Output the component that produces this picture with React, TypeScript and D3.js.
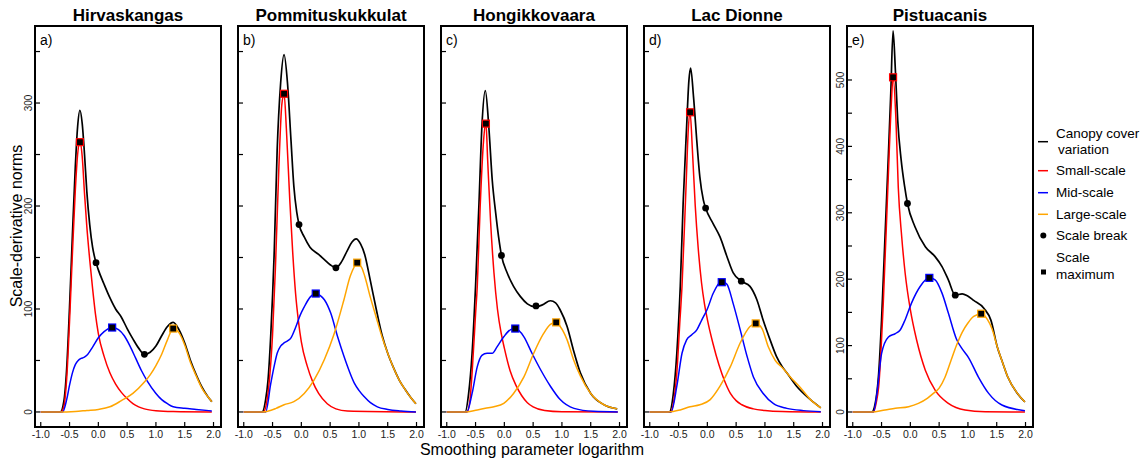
import React from 'react'
import * as d3 from 'd3'

type Pt = [number, number]

const sites = ['Hirvaskangas', 'Pommituskukkulat', 'Hongikkovaara', 'Lac Dionne', 'Pistuacanis']
const panelTags = ['a)', 'b)', 'c)', 'd)', 'e)']
const xTicks = [-1, -0.5, 0, 0.5, 1, 1.5, 2]

// Hirvaskangas
const hirvBlack: Pt[] = [[-1, 0], [-0.66, 0], [-0.6, 10], [-0.55, 42], [-0.5, 102], [-0.45, 172], [-0.4, 238], [-0.36, 277], [-0.32, 293], [-0.28, 280], [-0.24, 250], [-0.2, 214], [-0.15, 182], [-0.1, 160], [-0.04, 145], [0, 138], [0.1, 124], [0.2, 111], [0.3, 100], [0.4, 92], [0.5, 81], [0.6, 71], [0.7, 62], [0.8, 56], [0.9, 58], [1.0, 64], [1.1, 74], [1.2, 83], [1.3, 87], [1.4, 80], [1.5, 67], [1.6, 50], [1.7, 36], [1.8, 24], [1.9, 15], [1.97, 10]]
const hirvRed: Pt[] = [[-1, 0], [-0.65, 0], [-0.6, 5], [-0.55, 32], [-0.5, 88], [-0.45, 154], [-0.4, 215], [-0.36, 250], [-0.32, 263], [-0.28, 248], [-0.24, 212], [-0.2, 180], [-0.15, 148], [-0.1, 120], [-0.05, 95], [0, 76], [0.1, 54], [0.2, 38], [0.3, 27], [0.4, 19], [0.5, 13], [0.6, 8], [0.7, 5], [0.8, 3], [1.0, 1.2], [1.3, 0.4], [1.97, 0]]
const hirvBlue: Pt[] = [[-1, 0], [-0.62, 0], [-0.55, 12], [-0.5, 26], [-0.45, 38], [-0.4, 46], [-0.35, 50], [-0.3, 52], [-0.25, 53], [-0.2, 55], [-0.1, 63], [0, 72], [0.1, 78], [0.24, 82], [0.35, 80], [0.45, 74], [0.55, 64], [0.65, 52], [0.75, 40], [0.85, 30], [1.0, 18], [1.1, 12], [1.2, 8], [1.3, 5], [1.5, 3.5], [1.7, 2.5], [1.97, 1]]
const hirvOrange: Pt[] = [[-1, 0], [-0.7, 0], [-0.4, 0.5], [-0.2, 1.5], [0, 2.5], [0.2, 5], [0.4, 11], [0.6, 18], [0.8, 29], [0.9, 36], [1.0, 45], [1.1, 56], [1.2, 70], [1.3, 81], [1.4, 77], [1.5, 65], [1.6, 48], [1.7, 35], [1.8, 23], [1.9, 15], [1.97, 10]]

// Pommituskukkulat
const pommBlack: Pt[] = [[-1, 0], [-0.68, 0], [-0.62, 12], [-0.58, 30], [-0.53, 76], [-0.47, 157], [-0.42, 254], [-0.36, 319], [-0.3, 347], [-0.24, 319], [-0.18, 264], [-0.13, 219], [-0.08, 194], [-0.04, 182], [0.05, 170], [0.15, 160], [0.3, 153], [0.4, 148], [0.5, 143], [0.6, 140], [0.7, 146], [0.8, 157], [0.88, 165], [0.95, 168], [1.03, 163], [1.1, 153], [1.2, 127], [1.3, 100], [1.4, 75], [1.5, 57], [1.6, 43], [1.7, 31], [1.8, 22], [1.9, 14], [1.99, 8]]
const pommRed: Pt[] = [[-1, 0], [-0.66, 0], [-0.6, 10], [-0.56, 28], [-0.5, 75], [-0.45, 140], [-0.39, 238], [-0.34, 298], [-0.3, 309], [-0.26, 275], [-0.2, 205], [-0.15, 155], [-0.1, 115], [-0.05, 88], [0, 68], [0.1, 45], [0.2, 29], [0.3, 18], [0.45, 8], [0.6, 3], [0.8, 1], [1.99, 0]]
const pommBlue: Pt[] = [[-1, 0], [-0.62, 0], [-0.53, 28], [-0.47, 45], [-0.42, 57], [-0.36, 64], [-0.3, 67], [-0.24, 69], [-0.18, 72], [-0.1, 82], [-0.02, 94], [0.05, 102], [0.16, 112], [0.25, 115], [0.33, 113], [0.4, 109], [0.51, 96], [0.63, 73], [0.74, 54], [0.83, 40], [0.92, 28], [1.0, 21], [1.09, 15], [1.2, 9], [1.32, 5], [1.5, 2.5], [1.73, 1], [1.99, 0]]
const pommOrange: Pt[] = [[-1, 0], [-0.68, 0], [-0.44, 3.5], [-0.3, 7], [-0.13, 10], [0.05, 18], [0.22, 31], [0.4, 51], [0.57, 76], [0.74, 109], [0.85, 132], [0.97, 144], [1.05, 140], [1.1, 132], [1.2, 111], [1.3, 92], [1.4, 73], [1.5, 57], [1.6, 43], [1.7, 31], [1.8, 22], [1.9, 14], [1.99, 8]]

// Hongikkovaara
const hongBlack: Pt[] = [[-1, 0], [-0.68, 0], [-0.62, 18], [-0.56, 57], [-0.5, 122], [-0.44, 203], [-0.39, 277], [-0.33, 312], [-0.27, 277], [-0.21, 225], [-0.15, 193], [-0.1, 170], [-0.05, 152], [0.05, 135], [0.16, 122], [0.28, 112], [0.4, 105], [0.54, 102], [0.66, 104], [0.8, 108], [0.89, 106], [0.97, 99], [1.09, 83], [1.2, 60], [1.32, 38], [1.5, 18], [1.73, 7], [1.96, 3]]
const hongRed: Pt[] = [[-1, 0], [-0.65, 0], [-0.6, 10], [-0.56, 38], [-0.5, 95], [-0.47, 122], [-0.42, 199], [-0.36, 264], [-0.32, 281], [-0.29, 245], [-0.24, 186], [-0.18, 135], [-0.12, 100], [-0.05, 75], [0, 62], [0.1, 40], [0.2, 26], [0.3, 16], [0.4, 9], [0.5, 5], [0.7, 1.5], [1.0, 0.3], [1.97, 0]]
const hongBlue: Pt[] = [[-1, 0], [-0.65, 0], [-0.56, 18], [-0.47, 44], [-0.39, 55], [-0.3, 57], [-0.21, 57], [-0.13, 63], [-0.01, 73], [0.11, 80], [0.19, 81], [0.34, 73], [0.48, 57], [0.63, 41], [0.8, 25], [0.97, 12], [1.21, 3.5], [1.55, 0.6], [1.97, 0]]
const hongOrange: Pt[] = [[-1, 0], [-0.68, 0], [-0.47, 2], [-0.33, 3.5], [-0.18, 5], [-0.01, 8.4], [0.16, 18], [0.34, 34], [0.51, 57], [0.68, 76], [0.8, 85], [0.9, 87], [0.97, 83], [1.09, 70], [1.2, 51], [1.32, 35], [1.5, 18], [1.73, 7], [1.96, 3]]

// Lac Dionne
const lacBlack: Pt[] = [[-1, 0], [-0.66, 0], [-0.59, 18], [-0.53, 57], [-0.47, 122], [-0.42, 203], [-0.36, 277], [-0.32, 322], [-0.29, 334], [-0.24, 306], [-0.18, 261], [-0.13, 228], [-0.07, 206], [-0.03, 198], [0.1, 183], [0.22, 170], [0.34, 151], [0.45, 135], [0.59, 127], [0.74, 122], [0.86, 109], [0.97, 89], [1.09, 70], [1.2, 54], [1.3, 44], [1.38, 38], [1.55, 25], [1.79, 12], [1.97, 4]]
const lacRed: Pt[] = [[-1, 0], [-0.64, 0], [-0.58, 12], [-0.53, 38], [-0.48, 85], [-0.44, 122], [-0.37, 219], [-0.33, 275], [-0.3, 291], [-0.26, 255], [-0.21, 200], [-0.16, 160], [-0.1, 125], [-0.05, 105], [0, 90], [0.1, 66], [0.2, 46], [0.3, 30], [0.4, 18], [0.5, 11], [0.6, 7], [0.8, 3], [1.0, 1.5], [1.3, 0.5], [1.97, 0]]
const lacBlue: Pt[] = [[-1, 0], [-0.63, 0], [-0.53, 25], [-0.44, 57], [-0.36, 70], [-0.27, 75], [-0.18, 80], [-0.1, 89], [0, 100], [0.1, 115], [0.25, 127], [0.34, 124], [0.45, 105], [0.57, 80], [0.69, 54], [0.8, 34], [0.97, 18], [1.15, 8], [1.38, 3.5], [1.67, 1.3], [1.97, 0.3]]
const lacOrange: Pt[] = [[-1, 0], [-0.68, 0], [-0.47, 2], [-0.3, 5], [-0.13, 7], [0.05, 12], [0.22, 25], [0.4, 44], [0.57, 67], [0.74, 83], [0.85, 86], [0.95, 81], [1.06, 63], [1.18, 50], [1.32, 42], [1.44, 34], [1.61, 24], [1.79, 12], [1.97, 4]]

// Pistuacanis
const pistBlack: Pt[] = [[-1, 0], [-0.67, 0], [-0.61, 13], [-0.55, 58], [-0.5, 138], [-0.44, 264], [-0.38, 390], [-0.34, 480], [-0.3, 574], [-0.26, 515], [-0.22, 440], [-0.16, 380], [-0.1, 340], [-0.05, 314], [0.08, 279], [0.26, 249], [0.43, 234], [0.55, 219], [0.66, 199], [0.78, 176], [0.9, 178], [0.99, 175], [1.1, 168], [1.28, 156], [1.4, 138], [1.51, 98], [1.6, 75], [1.69, 53], [1.86, 28], [1.99, 15]]
const pistRed: Pt[] = [[-1, 0], [-0.64, 0], [-0.59, 15], [-0.55, 38], [-0.47, 164], [-0.39, 339], [-0.33, 465], [-0.3, 505], [-0.25, 440], [-0.21, 339], [-0.15, 264], [-0.09, 209], [0, 154], [0.11, 108], [0.26, 63], [0.43, 33], [0.66, 13], [0.95, 3], [1.3, 0.5], [1.99, 0]]
const pistBlue: Pt[] = [[-1, 0], [-0.64, 0], [-0.58, 28], [-0.5, 88], [-0.38, 113], [-0.26, 118], [-0.18, 123], [-0.09, 139], [0.02, 164], [0.17, 189], [0.33, 202], [0.43, 199], [0.55, 179], [0.66, 149], [0.8, 110], [0.9, 95], [1.01, 82], [1.18, 53], [1.36, 28], [1.59, 10.5], [1.99, 2]]
const pistOrange: Pt[] = [[-1, 0], [-0.67, 0], [-0.44, 3], [-0.26, 5.5], [-0.03, 8], [0.14, 13], [0.3, 21], [0.4, 28], [0.5, 36], [0.6, 52], [0.7, 76], [0.8, 100], [0.9, 120], [1.0, 134], [1.1, 144], [1.24, 148], [1.34, 139], [1.42, 125], [1.51, 98], [1.6, 75], [1.69, 53], [1.86, 28], [1.99, 15]]

// scale maxima: small, mid, large
const maxima: Pt[][] = [
  [[-0.32, 262], [0.24, 82], [1.3, 81]],
  [[-0.3, 309], [0.25, 115], [0.97, 145]],
  [[-0.32, 280], [0.19, 81], [0.9, 87]],
  [[-0.3, 291], [0.25, 126], [0.84, 86]],
  [[-0.3, 504], [0.33, 202], [1.23, 148]],
]
// scale breaks on the canopy curve
const breaks: Pt[][] = [
  [[-0.04, 145], [0.8, 56]],
  [[-0.04, 182], [0.6, 140]],
  [[-0.05, 152], [0.55, 103]],
  [[-0.03, 198], [0.59, 127]],
  [[-0.05, 314], [0.78, 176]],
]

const curves: Pt[][][] = [
  [hirvBlack, hirvRed, hirvBlue, hirvOrange],
  [pommBlack, pommRed, pommBlue, pommOrange],
  [hongBlack, hongRed, hongBlue, hongOrange],
  [lacBlack, lacRed, lacBlue, lacOrange],
  [pistBlack, pistRed, pistBlue, pistOrange],
]
const colors = ['#000000', '#ff0000', '#0000ff', '#ffa500']
const yTop = [374.8, 374.8, 374.8, 374.8, 581.3]
const yBottom = [-14.6, -14.6, -14.6, -14.6, -22.6]
const yTickMax = [350, 350, 350, 350, 550]
const showYLabels = [true, false, false, false, true]

const W = 1142
const H = 459
const top = 26
const bottom = 427
const pw = 186
const font = 'Liberation Sans, Arial, sans-serif'

const Panel = ({ i }: { i: number }) => {
  const left = 35 + i * 203
  const x = d3.scaleLinear().domain([-1.1, 2.13]).range([left, left + pw])
  const y = d3.scaleLinear().domain([yBottom[i], yTop[i]]).range([bottom, top])
  const line = d3
    .line<Pt>()
    .x(d => x(d[0]))
    .y(d => y(d[1]))
    .curve(d3.curveMonotoneX)
  const yTicks = d3.range(0, yTickMax[i] + 1, 50)

  return (
    <g>
      <text x={left + pw / 2} y={21} textAnchor="middle" fontSize={17} fontWeight="bold">
        {sites[i]}
      </text>
      {curves[i].map((c, k) => (
        <path key={k} d={line(c) || ''} fill="none" stroke={colors[k]} strokeWidth={k === 0 ? 1.7 : 1.5} />
      ))}
      {breaks[i].map((p, k) => (
        <circle key={k} cx={x(p[0])} cy={y(p[1])} r={3.4} fill="#000" />
      ))}
      {maxima[i].map((p, k) => (
        <rect
          key={k}
          x={x(p[0]) - 3.5}
          y={y(p[1]) - 3.5}
          width={7}
          height={7}
          fill="#000"
          stroke={colors[k + 1]}
          strokeWidth={1.2}
        />
      ))}
      <rect x={left} y={top} width={pw} height={bottom - top} fill="none" stroke="#000" strokeWidth={2} />
      {xTicks.map(t => (
        <g key={t}>
          <line x1={x(t)} x2={x(t)} y1={bottom} y2={bottom - 5} stroke="#000" strokeWidth={1.2} />
          <text x={x(t)} y={438} textAnchor="middle" fontSize={10.5} fill="#222">
            {t.toFixed(1)}
          </text>
        </g>
      ))}
      {yTicks.map(t => (
        <g key={t}>
          <line x1={left} x2={left + 5} y1={y(t)} y2={y(t)} stroke="#000" strokeWidth={1.2} />
          {showYLabels[i] && t % 100 === 0 && (
            <text
              transform={`translate(${left - 6.5},${y(t)}) rotate(-90)`}
              textAnchor="middle"
              dominantBaseline="central"
              fontSize={10}
              fill="#222"
            >
              {t}
            </text>
          )}
        </g>
      ))}
      <text x={left + 5} y={45} fontSize={14}>
        {panelTags[i]}
      </text>
    </g>
  )
}

const legendLines = [
  { label: ['Canopy cover', 'variation'], color: colors[0], y: 141.7 },
  { label: ['Small-scale'], color: colors[1], y: 170.7 },
  { label: ['Mid-scale'], color: colors[2], y: 192.7 },
  { label: ['Large-scale'], color: colors[3], y: 214.3 },
]

const Legend = () => (
  <g fontSize={13.5}>
    {legendLines.map(d => (
      <g key={d.label[0]}>
        <line x1={1038} x2={1048} y1={d.y} y2={d.y} stroke={d.color} strokeWidth={1.5} />
        {d.label.length === 2 ? (
          <>
            <text x={1056} y={137.5}>{d.label[0]}</text>
            <text x={1058} y={154}>{d.label[1]}</text>
          </>
        ) : (
          <text x={1056} y={d.y + 4.5}>{d.label[0]}</text>
        )}
      </g>
    ))}
    <circle cx={1043.3} cy={235.5} r={3} fill="#000" />
    <text x={1056} y={240}>Scale break</text>
    <rect x={1041} y={269.5} width={5} height={5} fill="#000" />
    <text x={1056} y={262}>Scale</text>
    <text x={1056} y={278.5}>maximum</text>
  </g>
)

export default function App() {
  return (
    <svg
      width={W}
      height={H}
      style={{ position: 'absolute', left: 0, top: 0, background: '#fff' }}
      fontFamily={font}
    >
      <rect width={W} height={H} fill="#fff" />
      {sites.map((_, i) => (
        <Panel key={i} i={i} />
      ))}
      <text transform="translate(22,226) rotate(-90)" textAnchor="middle" fontSize={16}>
        Scale-derivative norms
      </text>
      <text x={532} y={455} textAnchor="middle" fontSize={16}>
        Smoothing parameter logarithm
      </text>
      <Legend />
    </svg>
  )
}
